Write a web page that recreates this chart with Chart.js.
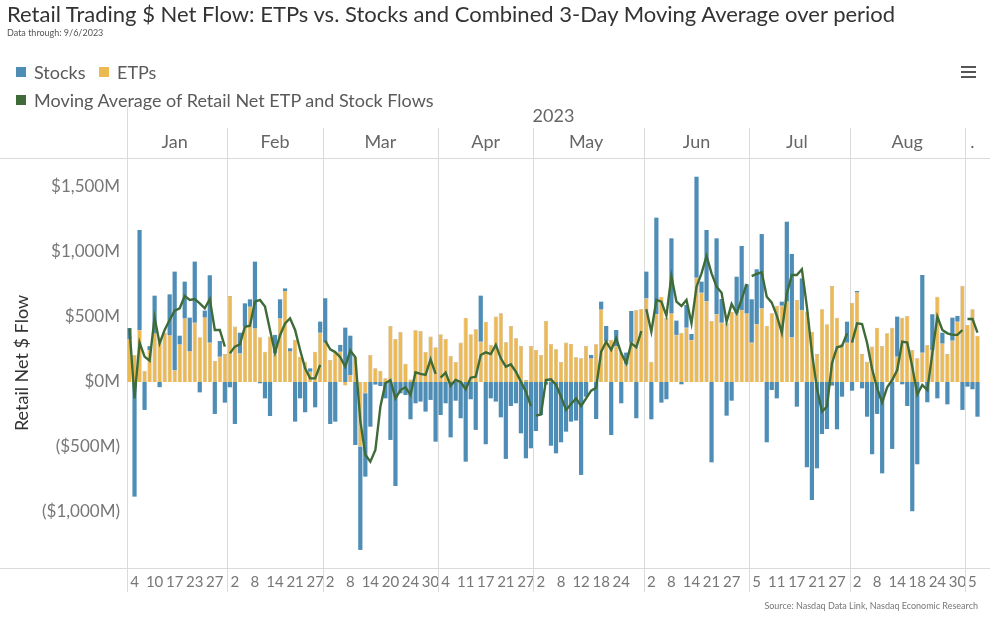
<!DOCTYPE html>
<html>
<head>
<meta charset="utf-8">
<script src="https://cdn.jsdelivr.net/npm/chart.js@4.4.0/dist/chart.umd.min.js"></script>
<style>
  body { margin: 0; background: #fff; }
  #wrap { position: relative; width: 990px; height: 620px; overflow: hidden; font-family: Lato, "Open Sans", sans-serif; }
  #c { position: absolute; left: 0; top: 0; }
  .t { position: absolute; white-space: nowrap; line-height: 1; }
  .sq { position: absolute; width: 10px; height: 10px; }
  .hb { position: absolute; left: 961px; width: 15px; height: 2px; background: #555; }
</style>
</head>
<body>
<div id="wrap">
  <canvas id="c" width="990" height="620"></canvas>
  <div class="t" style="left:7px;top:3px;font-size:22px;color:#333;">Retail Trading $ Net Flow: ETPs vs. Stocks and Combined 3-Day Moving Average over period</div>
  <div class="t" style="left:7px;top:28px;font-size:9px;color:#555;">Data through: 9/6/2023</div>
  <div class="sq" style="left:16px;top:67px;background:#4E8DB6;"></div>
  <div class="t" style="left:34px;top:63px;font-size:18px;color:#5a5a5a;">Stocks</div>
  <div class="sq" style="left:99px;top:67px;background:#ECB953;"></div>
  <div class="t" style="left:117px;top:63px;font-size:18px;color:#5a5a5a;">ETPs</div>
  <div class="sq" style="left:16px;top:95px;background:#3E6B38;"></div>
  <div class="t" style="left:34px;top:91px;font-size:18px;color:#5a5a5a;">Moving Average of Retail Net ETP and Stock Flows</div>
  <div class="hb" style="top:66px;"></div>
  <div class="hb" style="top:71px;"></div>
  <div class="hb" style="top:76px;"></div>
  <div class="t" style="right:12px;top:601px;font-size:9px;color:#777;">Source: Nasdaq Data Link, Nasdaq Economic Research</div>
</div>
<script>
// ---- Trading days (categories) per month, 2023 ----
const monthNames = ['Jan', 'Feb', 'Mar', 'Apr', 'May', 'Jun', 'Jul', 'Aug', '.'];
const tradingDays = [
  [3,4,5,6,9,10,11,12,13,17,18,19,20,23,24,25,26,27,30,31],
  [1,2,3,6,7,8,9,10,13,14,15,16,17,21,22,23,24,27,28],
  [1,2,3,6,7,8,9,10,13,14,15,16,17,20,21,22,23,24,27,28,29,30,31],
  [3,4,5,6,10,11,12,13,14,17,18,19,20,21,24,25,26,27,28],
  [1,2,3,4,5,8,9,10,11,12,15,16,17,18,19,22,23,24,25,26,30,31],
  [1,2,5,6,7,8,9,12,13,14,15,16,20,21,22,23,26,27,28,29,30],
  [3,5,6,7,10,11,12,13,14,17,18,19,20,21,24,25,26,27,28,31],
  [1,2,3,4,7,8,9,10,11,14,15,16,17,18,21,22,23,24,25,28,29,30,31],
  [1,5,6]
];
// ---- Day-number tick labels shown on the bottom axis ----
const tickDays = [
  [4,10,17,23,27], [2,8,14,21,27], [2,8,14,20,24,30], [4,11,17,21,27],
  [2,8,12,18,24], [2,8,14,21,27], [5,11,17,21,27], [2,8,14,18,24,30], [5]
];
// ---- Y axis tick values ($M) ----
const yTicks = [-1000, -500, 0, 500, 1000, 1500];

// ---- Series values, $M (Jan .. Sep) ----
const etpFlow = [
  330,208,400,87,246,374,340,380,361,92,290,490,238,456,344,497,303,162,195,215,
  661,426,220,426,579,413,344,233,349,220,490,700,238,323,195,156,79,233,379,
  303,169,226,233,-28,54,190,-497,-87,208,105,87,28,431,331,385,141,20,397,392,231,349,267,
  367,331,200,154,303,495,367,405,310,464,285,503,528,305,431,336,279,15,277,
  246,208,469,292,251,154,303,292,190,182,277,182,290,559,315,323,277,226,136,303,554,562,
  644,156,523,656,495,528,362,379,418,323,803,687,623,469,523,456,456,541,528,554,528,
  303,446,567,433,528,587,587,618,344,631,554,541,387,215,559,444,738,495,290,303,
  610,690,215,156,272,418,277,374,418,195,495,508,246,182,226,285,246,656,297,215,318,464,741,
  438,559,356
];
const stocksFlow = [
  85,-882,769,-215,30,290,-40,0,313,757,66,282,257,470,-80,52,518,-246,120,-159,
  -41,-323,159,179,57,513,-10,-126,-262,142,146,20,21,-305,-126,-233,26,-195,85,
  341,-323,-305,52,418,302,-485,-795,-641,-344,-20,-31,-126,-446,-800,-87,-100,-287,-164,-151,-228,-138,-459,
  -254,-164,-426,-144,-279,-613,-133,-369,354,-479,-126,-151,-272,-592,-185,-164,-395,-587,-510,
  -377,-254,-20,-490,-549,-464,-382,-305,-297,-715,-113,26,-285,59,116,-408,123,-164,90,243,-279,0,
  205,-287,741,-159,-133,577,110,-18,174,46,776,85,546,-618,582,182,-259,-144,282,492,223,
  333,421,571,-464,-62,-126,31,615,641,-190,243,-656,-908,-664,-400,-362,-28,-364,-113,161,
  -67,10,-49,-267,-556,-246,-703,0,-515,308,-18,-185,-995,-633,597,-156,275,-126,82,-172,177,44,-215,
  -36,-56,-267
];
const movingAvg = [
  413,-126,303,195,164,495,297,400,477,549,567,662,631,638,605,567,638,400,400,272,
  220,272,290,425,433,618,631,580,400,225,360,450,490,400,246,105,28,28,131,
  318,251,230,190,118,241,190,-300,-560,-613,-523,-190,-10,15,-126,-62,-41,-100,74,62,54,174,62,
  33,72,-28,15,0,-56,33,41,208,228,215,285,182,118,136,79,3,-74,-185,
  -259,-250,15,20,-23,-113,-215,-169,-126,-185,-126,-67,-44,233,310,246,336,220,144,297,267,392,
  559,387,631,618,510,815,618,585,631,451,733,836,969,836,733,687,464,600,528,638,754,
  815,831,844,656,610,510,379,682,823,823,867,579,226,-49,-228,-190,144,267,277,374,
  303,451,446,300,100,-50,-159,-41,15,92,310,303,118,-95,-23,-62,220,503,400,374,362,362,400,
  485,485,379
];

// ---- derived lookups ----
const labels = [], monthOf = [], dayOf = [];
tradingDays.forEach((days, m) => days.forEach(d => {
  labels.push('2023-' + String(m + 1).padStart(2, '0') + '-' + String(d).padStart(2, '0'));
  monthOf.push(m); dayOf.push(d);
}));
const monthStart = [], monthMid = {};
let acc = 0;
tradingDays.forEach((days, m) => {
  monthStart.push(acc);
  monthMid[acc + Math.floor((days.length - 1) / 2)] = monthNames[m];
  acc += days.length;
});

const gridColor = '#dadada';
const framePlugin = {
  id: 'frame',
  beforeDatasetsDraw(chart) {
    const ctx = chart.ctx, x = chart.scales.x, a = chart.chartArea;
    ctx.save();
    ctx.strokeStyle = gridColor;
    ctx.lineWidth = 1;
    ctx.beginPath();
    ctx.moveTo(0, a.top + 0.5); ctx.lineTo(990, a.top + 0.5);
    ctx.moveTo(0, a.bottom + 0.5); ctx.lineTo(990, a.bottom + 0.5);
    ctx.moveTo(Math.round(a.left) + 0.5, 106); ctx.lineTo(Math.round(a.left) + 0.5, 592);
    monthStart.slice(1).forEach(i => {
      const px = Math.round((x.getPixelForValue(i - 1) + x.getPixelForValue(i)) / 2) + 0.5;
      ctx.moveTo(px, 128); ctx.lineTo(px, 592);
    });
    ctx.stroke();
    ctx.restore();
  }
};

Chart.defaults.font.family = 'Lato, "Open Sans", sans-serif';

new Chart(document.getElementById('c'), {
  type: 'bar',
  data: {
    labels: labels,
    datasets: [
      {
        type: 'line', label: 'Moving Average of Retail Net ETP and Stock Flows', data: movingAvg,
        borderColor: '#3E6B38', borderWidth: 2.4, pointRadius: 0, tension: 0, order: 0,
        segment: {
          borderColor: c => monthOf[c.p0DataIndex] !== monthOf[c.p1DataIndex] ? 'rgba(0,0,0,0)' : '#3E6B38'
        }
      },
      {
        label: 'ETPs', data: etpFlow, backgroundColor: '#ECB953',
        borderColor: 'rgba(170,140,90,0.75)', borderWidth: 0.6,
        barPercentage: 0.84, categoryPercentage: 1, order: 1, stack: 's'
      },
      {
        label: 'Stocks', data: stocksFlow, backgroundColor: '#4E8DB6',
        borderWidth: 0, barPercentage: 0.84, categoryPercentage: 1, order: 1, stack: 's'
      }
    ]
  },
  options: {
    responsive: false,
    animation: false,
    layout: { padding: { top: 105, right: 10, left: 0, bottom: 0 } },
    plugins: { legend: { display: false }, tooltip: { enabled: false } },
    scales: {
      x: {
        type: 'category', position: 'bottom', stacked: true, offset: true,
        grid: { display: false, drawTicks: false }, border: { display: false },
        ticks: {
          autoSkip: false, maxRotation: 0, minRotation: 0, padding: 5,
          color: '#777', font: { size: 15 },
          callback: (v, i) => tickDays[monthOf[i]].includes(dayOf[i]) ? String(dayOf[i]) : ''
        },
        afterFit: s => { s.height = 52; }
      },
      xTop: {
        type: 'category', position: 'top', offset: true,
        grid: { display: false, drawTicks: false }, border: { display: false },
        ticks: {
          autoSkip: false, maxRotation: 0, minRotation: 0, padding: 5,
          color: '#666', font: { size: 18 },
          callback: (v, i) => monthMid[i] || ''
        },
        title: { display: true, text: '2023', color: '#666', font: { size: 18 }, padding: { top: 0, bottom: 0 } },
        afterFit: s => { s.height = 53; }
      },
      y: {
        stacked: true, min: -1431, max: 1723,
        grid: { display: false, drawTicks: false }, border: { display: false },
        afterBuildTicks: s => { s.ticks = yTicks.map(v => ({ value: v })); },
        ticks: {
          padding: 7, color: '#777', font: { size: 17 },
          callback: v => v === 0 ? '$0M' : (v > 0 ? '$' + v.toLocaleString('en-US') + 'M' : '($' + (-v).toLocaleString('en-US') + 'M)')
        },
        title: { display: true, text: 'Retail Net $ Flow', color: '#333', font: { size: 18 }, padding: { top: 11, bottom: 0 } },
        afterFit: s => { s.width = 127; }
      }
    }
  },
  plugins: [framePlugin]
});
</script>
</body>
</html>
